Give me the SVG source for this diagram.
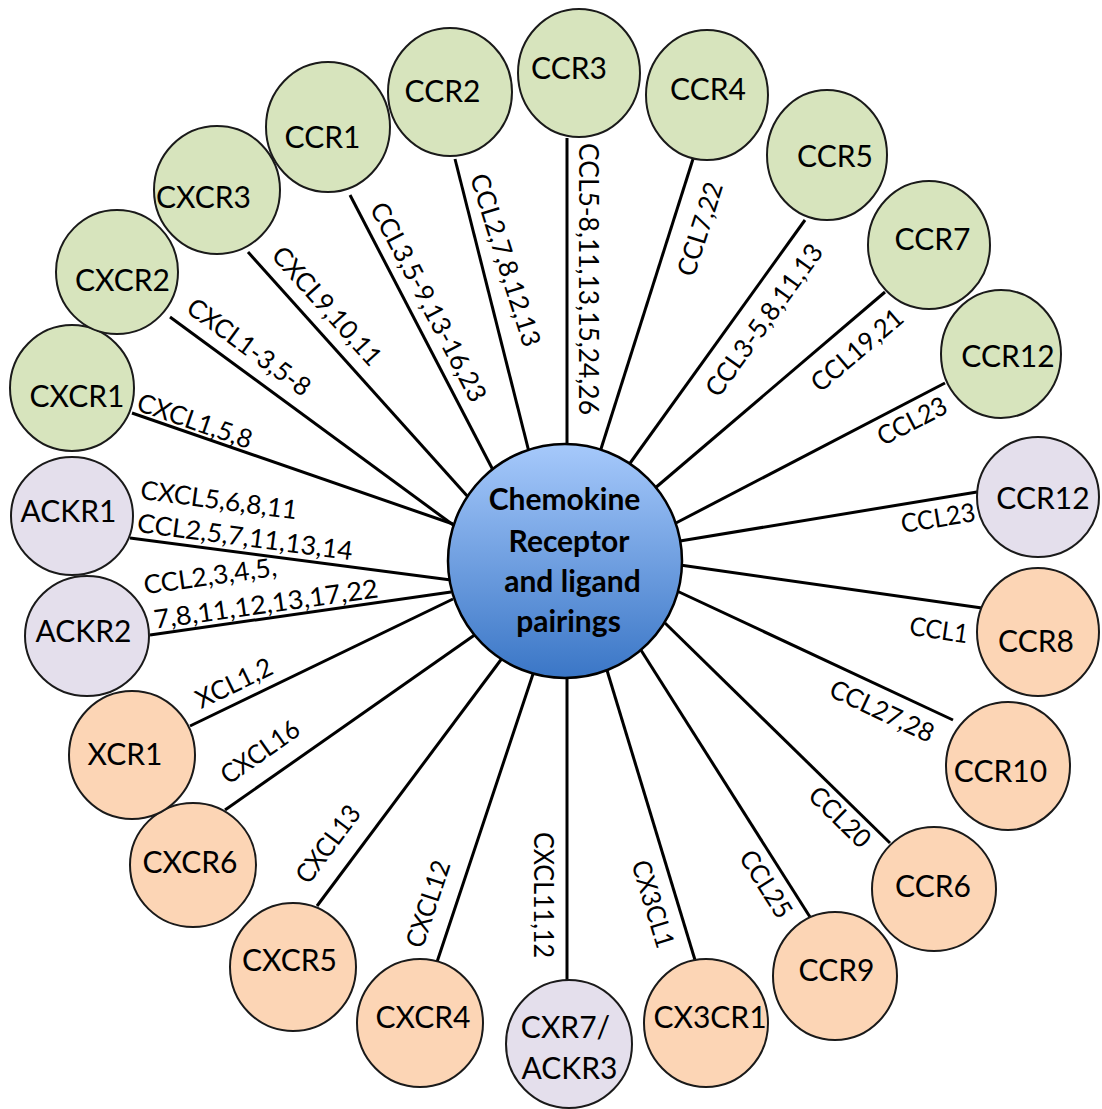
<svg xmlns="http://www.w3.org/2000/svg" width="1102" height="1109" viewBox="0 0 1102 1109">
<defs>
<linearGradient id="hub" x1="0" y1="0" x2="0" y2="1">
<stop offset="0" stop-color="#a6c9fb"/>
<stop offset="1" stop-color="#3a76c6"/>
</linearGradient>
</defs>
<style>
.bg{fill:#ffffff}
.ln{stroke:#000;stroke-width:3;fill:none}
.lb{font-family:Lato,"Liberation Sans",sans-serif;font-size:26px;fill:#000;text-anchor:middle}
.nd{stroke:#1a1a1a;stroke-width:2}
.g{fill:#d7e4bd}
.p{fill:#e4dfec}
.o{fill:#fcd5b5}
.nt{font-family:Lato,"Liberation Sans",sans-serif;font-size:30px;fill:#000;text-anchor:middle}
.ct{font-family:Lato,"Liberation Sans",sans-serif;font-size:30px;font-weight:bold;fill:#000;text-anchor:middle}
</style>
<rect class="bg" x="0" y="0" width="1102" height="1109"/>
<g id="connectors">
<line class="ln" x1="567" y1="138" x2="567" y2="450"/>
<line class="ln" x1="455" y1="159" x2="529" y2="452"/>
<line class="ln" x1="350" y1="195" x2="494" y2="472"/>
<line class="ln" x1="248" y1="252" x2="469" y2="498"/>
<line class="ln" x1="170" y1="317" x2="456" y2="527"/>
<line class="ln" x1="132" y1="413" x2="453" y2="524"/>
<line class="ln" x1="130" y1="538" x2="451" y2="580"/>
<line class="ln" x1="150" y1="635" x2="451" y2="592"/>
<line class="ln" x1="190" y1="726" x2="453" y2="599"/>
<line class="ln" x1="225" y1="810" x2="476" y2="634"/>
<line class="ln" x1="317" y1="906" x2="503" y2="657"/>
<line class="ln" x1="437" y1="962" x2="534" y2="671"/>
<line class="ln" x1="567" y1="980" x2="567" y2="672"/>
<line class="ln" x1="695" y1="960" x2="606" y2="667"/>
<line class="ln" x1="810" y1="917" x2="639" y2="647"/>
<line class="ln" x1="890" y1="843" x2="665" y2="623"/>
<line class="ln" x1="953" y1="720" x2="677" y2="591"/>
<line class="ln" x1="982" y1="608" x2="680" y2="565"/>
<line class="ln" x1="977" y1="492" x2="680" y2="541"/>
<line class="ln" x1="945" y1="383" x2="674" y2="524"/>
<line class="ln" x1="885" y1="292" x2="654" y2="489"/>
<line class="ln" x1="805" y1="220" x2="628" y2="466"/>
<line class="ln" x1="693" y1="159" x2="600" y2="452"/>
<text class="lb" dy="0.35em" textLength="272" lengthAdjust="spacingAndGlyphs" transform="translate(588,279) rotate(90)">CCL5-8,11,13,15,24,26</text>
<text class="lb" dy="0.35em" textLength="180" lengthAdjust="spacingAndGlyphs" transform="translate(505.5,260) rotate(72.5)">CCL2,7,8,12,13</text>
<text class="lb" dy="0.35em" textLength="221" lengthAdjust="spacingAndGlyphs" transform="translate(428.5,302) rotate(62.4)">CCL3,5-9,13-16,23</text>
<text class="lb" dy="0.35em" textLength="150" lengthAdjust="spacingAndGlyphs" transform="translate(327,306) rotate(48.1)">CXCL9,10,11</text>
<text class="lb" dy="0.35em" textLength="146" lengthAdjust="spacingAndGlyphs" transform="translate(249,347) rotate(36.2)">CXCL1-3,5-8</text>
<text class="lb" dy="0.35em" textLength="120" lengthAdjust="spacingAndGlyphs" transform="translate(195,421) rotate(19.1)">CXCL1,5,8</text>
<text class="lb" dy="0.35em" textLength="158" lengthAdjust="spacingAndGlyphs" transform="translate(219,500) rotate(7.5)">CXCL5,6,8,11</text>
<text class="lb" dy="0.35em" textLength="217" lengthAdjust="spacingAndGlyphs" transform="translate(245,537) rotate(7.5)">CCL2,5,7,11,13,14</text>
<text class="lb" dy="0.35em" textLength="134" lengthAdjust="spacingAndGlyphs" transform="translate(210,576) rotate(-8)">CCL2,3,4,5,</text>
<text class="lb" dy="0.35em" textLength="226" lengthAdjust="spacingAndGlyphs" transform="translate(266,604) rotate(-8)">7,8,11,12,13,17,22</text>
<text class="lb" dy="0.35em" textLength="82" lengthAdjust="spacingAndGlyphs" transform="translate(234,683) rotate(-25.9)">XCL1,2</text>
<text class="lb" dy="0.35em" textLength="90" lengthAdjust="spacingAndGlyphs" transform="translate(260,752) rotate(-35.1)">CXCL16</text>
<text class="lb" dy="0.35em" textLength="90" lengthAdjust="spacingAndGlyphs" transform="translate(328,844) rotate(-53.3)">CXCL13</text>
<text class="lb" dy="0.35em" textLength="90" lengthAdjust="spacingAndGlyphs" transform="translate(428,904) rotate(-71.6)">CXCL12</text>
<text class="lb" dy="0.35em" textLength="126" lengthAdjust="spacingAndGlyphs" transform="translate(543.5,895) rotate(90)">CXCL11,12</text>
<text class="lb" dy="0.35em" textLength="90" lengthAdjust="spacingAndGlyphs" transform="translate(653,904) rotate(73.1)">CX3CL1</text>
<text class="lb" dy="0.35em" textLength="75" lengthAdjust="spacingAndGlyphs" transform="translate(766,884) rotate(57.7)">CCL25</text>
<text class="lb" dy="0.35em" textLength="75" lengthAdjust="spacingAndGlyphs" transform="translate(840,817) rotate(44.4)">CCL20</text>
<text class="lb" dy="0.35em" textLength="112" lengthAdjust="spacingAndGlyphs" transform="translate(882,711) rotate(25.1)">CCL27,28</text>
<text class="lb" dy="0.35em" textLength="59" lengthAdjust="spacingAndGlyphs" transform="translate(939,630) rotate(8.2)">CCL1</text>
<text class="lb" dy="0.35em" textLength="75" lengthAdjust="spacingAndGlyphs" transform="translate(938,518) rotate(-9.3)">CCL23</text>
<text class="lb" dy="0.35em" textLength="75" lengthAdjust="spacingAndGlyphs" transform="translate(912,421) rotate(-27.4)">CCL23</text>
<text class="lb" dy="0.35em" textLength="112" lengthAdjust="spacingAndGlyphs" transform="translate(857,350) rotate(-40.4)">CCL19,21</text>
<text class="lb" dy="0.35em" textLength="181" lengthAdjust="spacingAndGlyphs" transform="translate(764,320) rotate(-54.2)">CCL3-5,8,11,13</text>
<text class="lb" dy="0.35em" textLength="97" lengthAdjust="spacingAndGlyphs" transform="translate(700,229) rotate(-72.4)">CCL7,22</text>
</g>
<g id="hub">
<circle cx="565" cy="561" r="117" fill="url(#hub)" stroke="#000" stroke-width="2.5"/>
<text class="ct" x="564.5" y="510">Chemokine</text>
<text class="ct" x="569" y="552">Receptor</text>
<text class="ct" x="572.5" y="592">and ligand</text>
<text class="ct" x="568.5" y="632">pairings</text>
</g>
<g id="node-CXCR1"><ellipse class="nd g" cx="72" cy="388" rx="62" ry="63"/><text class="nt" x="77" y="407">CXCR1</text></g>
<g id="node-CXCR2"><ellipse class="nd g" cx="117" cy="272" rx="61" ry="62"/><text class="nt" x="122.5" y="291">CXCR2</text></g>
<g id="node-CXCR3"><ellipse class="nd g" cx="217" cy="190" rx="63" ry="64"/><text class="nt" x="203.5" y="208">CXCR3</text></g>
<g id="node-CCR1"><ellipse class="nd g" cx="328" cy="127" rx="62" ry="65"/><text class="nt" x="322.5" y="148">CCR1</text></g>
<g id="node-CCR2"><ellipse class="nd g" cx="450" cy="92" rx="62" ry="64"/><text class="nt" x="442.5" y="102">CCR2</text></g>
<g id="node-CCR3"><ellipse class="nd g" cx="579" cy="73" rx="61" ry="64"/><text class="nt" x="569" y="79">CCR3</text></g>
<g id="node-CCR4"><ellipse class="nd g" cx="707" cy="95" rx="61" ry="65"/><text class="nt" x="708" y="100">CCR4</text></g>
<g id="node-CCR5"><ellipse class="nd g" cx="827" cy="155" rx="60" ry="65"/><text class="nt" x="835" y="167">CCR5</text></g>
<g id="node-CCR7"><ellipse class="nd g" cx="929" cy="245" rx="61" ry="64"/><text class="nt" x="932.5" y="250">CCR7</text></g>
<g id="node-CCR12a"><ellipse class="nd g" cx="1001" cy="354" rx="60" ry="64"/><text class="nt" x="1008" y="367">CCR12</text></g>
<g id="node-CCR12b"><ellipse class="nd p" cx="1038" cy="497" rx="61" ry="60"/><text class="nt" x="1043" y="509">CCR12</text></g>
<g id="node-CCR8"><ellipse class="nd o" cx="1038" cy="632" rx="61" ry="64"/><text class="nt" x="1036" y="652">CCR8</text></g>
<g id="node-CCR10"><ellipse class="nd o" cx="1008" cy="766" rx="62" ry="64"/><text class="nt" x="1000.5" y="782">CCR10</text></g>
<g id="node-CCR6"><ellipse class="nd o" cx="934" cy="889" rx="62" ry="62"/><text class="nt" x="933" y="897">CCR6</text></g>
<g id="node-CCR9"><ellipse class="nd o" cx="835" cy="976" rx="62" ry="64"/><text class="nt" x="836.5" y="981">CCR9</text></g>
<g id="node-CX3CR1"><ellipse class="nd o" cx="706" cy="1023" rx="62" ry="64"/><text class="nt" x="710" y="1028">CX3CR1</text></g>
<g id="node-ACKR3"><ellipse class="nd p" cx="569" cy="1044" rx="63" ry="64"/><text class="nt" x="565.5" y="1038">CXR7/</text><text class="nt" x="569.5" y="1079">ACKR3</text></g>
<g id="node-CXCR4"><ellipse class="nd o" cx="420" cy="1023" rx="63" ry="64"/><text class="nt" x="423" y="1028">CXCR4</text></g>
<g id="node-CXCR5"><ellipse class="nd o" cx="293" cy="967" rx="63" ry="64"/><text class="nt" x="289.5" y="971">CXCR5</text></g>
<g id="node-CXCR6"><ellipse class="nd o" cx="193" cy="865" rx="63" ry="62"/><text class="nt" x="190" y="873">CXCR6</text></g>
<g id="node-XCR1"><ellipse class="nd o" cx="132" cy="755" rx="63" ry="64"/><text class="nt" x="125" y="765">XCR1</text></g>
<g id="node-ACKR2"><ellipse class="nd p" cx="87" cy="636" rx="62" ry="60"/><text class="nt" x="83.5" y="642">ACKR2</text></g>
<g id="node-ACKR1"><ellipse class="nd p" cx="72" cy="516" rx="61" ry="59"/><text class="nt" x="68.5" y="522">ACKR1</text></g>
</svg>
